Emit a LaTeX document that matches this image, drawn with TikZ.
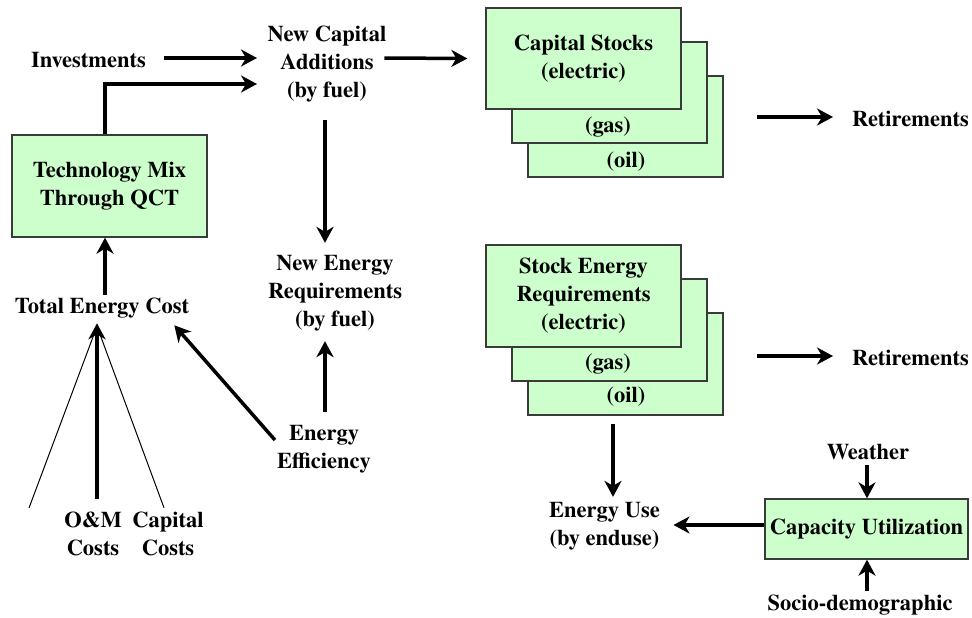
\documentclass[tikz,border=0pt]{standalone}
\usepackage{fontspec}
\setmainfont{texgyretermes}[Extension=.otf, UprightFont=*-regular, BoldFont=*-bold, ItalicFont=*-italic, BoldItalicFont=*-bolditalic]
\usetikzlibrary{arrows.meta}
\definecolor{boxgreen}{HTML}{CCFFCC}
\definecolor{boxline}{HTML}{3A3A3A}
\tikzset{
  lbl/.style={inner sep=0pt, align=center, font=\rmfamily\fontsize{22.5}{28}\selectfont\bfseries},
  gbox/.style={lbl, draw=boxline, line width=1.3pt, fill=boxgreen},
  arr/.style={line width=3.5pt, -{Stealth[length=16pt,width=17pt,inset=5pt]}},
  thin/.style={line width=1pt}
}
\begin{document}
\begin{tikzpicture}[x=1pt,y=1pt]
\useasboundingbox (0,0) rectangle (972,-618);

% --- capital side ---
\node[lbl] (inv) at (88.5,-60) {Investments};
\node[lbl] (nca) at (327,-64) {New Capital\\Additions\\(by fuel)};
\node[gbox, minimum width=195pt, minimum height=102pt] (tech) at (109.5,-186) {Technology Mix\\Through QCT};

% stacked capital stock boxes
\node[gbox, minimum width=195pt, minimum height=101pt] (cs3) at (625.5,-126.5) {};
\node[gbox, minimum width=195pt, minimum height=101pt] (cs2) at (609.5,-92.5) {};
\node[gbox, minimum width=195pt, minimum height=101pt] (cs1) at (583.5,-58.5) {Capital Stocks\\(electric)};
\node[lbl] (csgas) at (608,-127) {(gas)};
\node[lbl] (csoil) at (626,-162) {(oil)};
\node[lbl] (ret1) at (910.5,-119) {Retirements};

% --- energy side ---
\node[lbl] (ner) at (335,-293) {New Energy\\Requirements\\(by fuel)};
\node[lbl] (tec) at (102,-308) {Total Energy Cost};
\node[lbl] (ee) at (324,-449) {Energy\\Efficiency};
\node[lbl] (om) at (93,-534) {O\&M\\Costs};
\node[lbl] (cc) at (168,-534) {Capital\\Costs};
\coordinate (lf) at (29,-508);

% stacked stock energy boxes
\node[gbox, minimum width=195pt, minimum height=102pt] (ser3) at (625.5,-364) {};
\node[gbox, minimum width=195pt, minimum height=102pt] (ser2) at (609.5,-330) {};
\node[gbox, minimum width=195pt, minimum height=102pt] (ser1) at (583.5,-296) {Stock Energy\\Requirements\\(electric)};
\node[lbl] (sergas) at (608,-364) {(gas)};
\node[lbl] (seroil) at (626,-397) {(oil)};
\node[lbl] (ret2) at (910.5,-358) {Retirements};

\node[lbl] (eu) at (604.5,-526) {Energy Use\\(by enduse)};
\node[gbox, minimum width=203pt, minimum height=60pt] (cu) at (866.5,-529) {Capacity Utilization};
\node[lbl] (wea) at (868,-452) {Weather};
\node[lbl] (soc) at (860,-605) {Socio-demographic};

% --- connectors ---
\draw[arr] ([xshift=18pt,yshift=2pt]inv.east) -- ([xshift=-10.5pt,yshift=6pt]nca.west);
\draw[arr] ([xshift=-4.5pt]tech.north) |- ([xshift=-10.5pt,yshift=-20pt]nca.west);
\draw[arr] ([xshift=-2pt,yshift=6pt]nca.east) -- ([xshift=-18pt]cs1.west);
\draw[arr] ([xshift=-2pt,yshift=-18pt]nca.south) -- ([xshift=-10pt,yshift=12pt]ner.north);
\draw[arr] ([xshift=1pt,yshift=13pt]ee.north) -- ([xshift=-10pt,yshift=-10pt]ner.south);
\draw[arr] ([xshift=-2pt,yshift=9pt]ee.west) -- ([xshift=-15pt,yshift=-7pt]tec.south east);
\draw[arr] ([xshift=3pt,yshift=3pt]tec.north) -- ([xshift=-4.5pt]tech.south);
\draw[thin] (lf) -- ([xshift=-5pt,yshift=-8pt]tec.south);
\draw[thin] ([xshift=-4pt,yshift=4pt]cc.north) -- ([xshift=-5pt,yshift=-8pt]tec.south);
\draw[arr] ([xshift=4pt,yshift=13pt]om.north) -- ([xshift=-5pt,yshift=-5pt]tec.south);

\draw[arr] ([xshift=-95pt,yshift=2pt]ret1.west) -- ([xshift=-19pt,yshift=2pt]ret1.west);
\draw[arr] ([xshift=-95pt,yshift=2pt]ret2.west) -- ([xshift=-19pt,yshift=2pt]ret2.west);
\draw[arr] ([xshift=-12.5pt,yshift=-8pt]ser3.south) -- ([xshift=8.5pt,yshift=5pt]eu.north);
\draw[arr] ([yshift=4pt]cu.west) -- ([xshift=13.5pt,yshift=1pt]eu.east);
\draw[arr] ([xshift=-1pt,yshift=-5pt]wea.south) -- ([xshift=0.5pt]cu.north);
\draw[arr] ([xshift=7pt,yshift=4pt]soc.north) -- ([xshift=0.5pt]cu.south);
\end{tikzpicture}
\end{document}
